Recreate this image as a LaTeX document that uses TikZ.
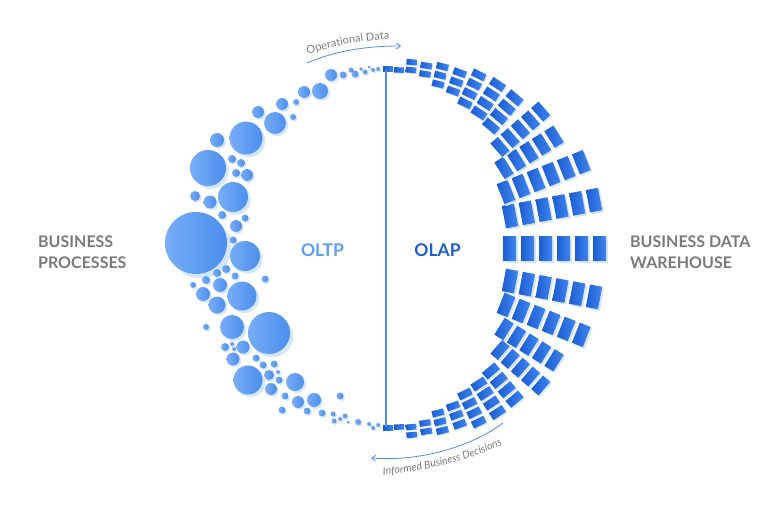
\documentclass[tikz,border=0pt]{standalone}
\usepackage{fontspec}
\setmainfont{Lato}
\usetikzlibrary{arrows.meta,decorations.text}

\definecolor{bubblelight}{HTML}{78ADF6}
\definecolor{bubbledark}{HTML}{4A8EEE}
\definecolor{shadowblue}{HTML}{D5E6FB}
\definecolor{blockdark}{HTML}{1C5DD2}
\definecolor{blocklight}{HTML}{3F86F0}
\definecolor{labelgray}{HTML}{7A7A7A}
\definecolor{oltpblue}{HTML}{5AA0F5}
\definecolor{olapblue}{HTML}{1B5FD0}
\definecolor{lineblue}{HTML}{4A8FF0}

\tikzset{
  bubble/.style={left color=bubblelight, right color=bubbledark},
  softshadow/.style={fill=shadowblue},
  block/.style={left color=blockdark, right color=blocklight},
  sidetext/.style={text=labelgray, align=left, anchor=west, inner sep=0pt,
    font=\fontsize{16}{21}\selectfont\bfseries},
  midtext/.style={inner sep=0pt, font=\fontsize{17.5}{19}\selectfont\bfseries},
  flow/.style={lineblue, line width=0.8pt, -{Straight Barb[length=4pt,width=6pt]}}
}

% bubbles x/y/r
\def\bubbles{378/69/2, 373/70/2, 369/67/1.5, 365/72/2.5, 361/69/1.8, 355/74/3.5,
  351/70/2.5, 343/75/3.5, 331/75/6, 320/91/8, 304/92/6, 296/102/3, 282/104/6,
  293/117/3, 275/123/11, 258/112/6, 246/138/16.5, 217/140/7, 208/168/18,
  232/159/4, 241/163/4, 236/173/4, 247/175/6, 233/197/15, 195/196/5, 210/202/6.5,
  222/215/4, 236/226/6, 245/218/3.5, 196/243/31, 233/240/3.5, 245/256/15,
  217/273/4, 226/269/4, 235/276/3.5, 206/280/4, 193/285/3, 220/285/7, 265/279/3.5,
  203/294/7, 242/296/14.5, 217/305/8.5, 206/327/3, 232/327/12, 269/333/21,
  225/347/4, 232/344/2, 234/349/2, 243/347/6.5, 233/359/6.5, 248/380/14.5,
  256/358/3.5, 263/365/3.5, 274/364/3.5, 278/372/2, 269/375/5, 279/380/3.5,
  271/389/6, 295/382/9, 285/396/3.5, 282/410/3.5, 298/402/6, 314/400/7,
  307/411/3.5, 340/396/3.5, 322/413/3.5, 333/414/2.5, 334/421/2.5, 340/419/2,
  345/416/2.5, 348/422/1.5, 358/422/3, 369/424/2, 373/428/2, 378/425/2}

% block rays: inner x/inner y/angle/scale/count (upper half, mirrored below)
\def\rays{509.5/248.5/0/1/6, 510/216/10.7/0.95/6, 506/192/21.6/0.9/6,
  504/168/32/0.82/5, 500/147/41/0.75/5, 491/126/50/0.68/4, 479/113/57/0.63/4,
  465/103/64/0.58/4, 453/91/70/0.54/3, 438/84/76/0.5/3, 425/74/81/0.47/2,
  411/70/85/0.44/2, 399/70/88/0.42/1, 388/69/90/0.4/1}

\begin{document}
\begin{tikzpicture}[x=1pt,y=-1pt]
  \useasboundingbox (0,0) rectangle (772,506);

  % bubbles
  \foreach \x/\y/\r in \bubbles
    \fill[softshadow] ({\x+0.1*\r+1.2},{\y+0.1*\r+1.2}) circle (\r);
  \foreach \x/\y/\r in \bubbles
    \shade[bubble] (\x,\y) circle (\r);

  % blocks
  \foreach \m in {1,-1}
  \foreach \bx/\by/\ba/\bs/\bn in \rays
  \foreach \j in {1,...,\bn}{
    \pgfmathsetmacro\cx{\bx+(\j-1)*18*\bs*cos(\ba)}
    \pgfmathsetmacro\cy{248.5+\m*(\by-248.5-(\j-1)*18*\bs*sin(\ba))}
    \pgfmathsetmacro\w{6.5*\bs}
    \pgfmathsetmacro\l{12*\bs}
    \fill[softshadow, shift={({\cx+2*\bs},{\cy+2*\bs})}, rotate=\m*\ba]
      (-\w,-\l) rectangle (\w,\l);
    \shade[block, shift={(\cx,\cy)}, rotate=\m*\ba]
      (-\w,-\l) rectangle (\w,\l);
  }

  % divider
  \coordinate (topend) at (386,70);
  \coordinate (botend) at (386,427);
  \draw[lineblue, line width=1.2pt] (topend) -- (botend);

  % labels
  \node[sidetext] (proc) at (38,252.5) {BUSINESS\\PROCESSES};
  \node[sidetext] (ware) at (630,252.5) {BUSINESS DATA\\WAREHOUSE};
  \node[midtext, text=oltpblue] (oltp) at (322.5,250) {OLTP};
  \node[midtext, text=olapblue] (olap) at (437.5,250) {OLAP};

  % flow arrows
  \coordinate (opstart) at (307,63);
  \coordinate (opend) at (401,46);
  \draw[flow] (opstart) .. controls (335,51) and (365,46) .. (opend);
  \coordinate (ibstart) at (503,423);
  \coordinate (ibend) at (371,458);
  \draw[flow] (ibstart) .. controls (475,444) and (425,462) .. (ibend);

  % arrow texts
  \path[decorate, decoration={text along path, text align=center,
    text={|\fontsize{11}{12}\selectfont\color{labelgray}|Operational Data}}]
    (298,58) .. controls (328,47) and (360,40) .. (400,38);
  \path[decorate, decoration={text along path, text align=center,
    text={|\fontsize{10.5}{12}\selectfont\itshape\color{labelgray}|Informed Business Decisions}}]
    (368,476) .. controls (425,474) and (480,457) .. (516,438);
\end{tikzpicture}
\end{document}
